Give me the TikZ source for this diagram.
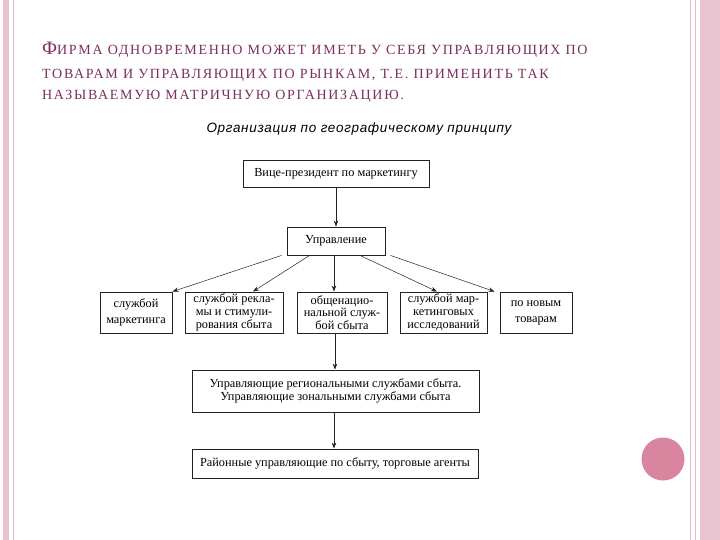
\documentclass[tikz,border=0pt]{standalone}
\usepackage{fontspec}
\setmainfont{Liberation Serif}
\newfontfamily\titlefont[LetterSpace=12]{Liberation Serif}
\newfontfamily\subfont[LetterSpace=5]{Liberation Sans}
\usepackage{tikz}
\usetikzlibrary{arrows.meta,positioning,calc}
\definecolor{sframe}{HTML}{E8C3D0}
\definecolor{sthin}{HTML}{E2B8C6}
\definecolor{sdot}{HTML}{D9859F}
\definecolor{stitle}{HTML}{7D2E5E}
\definecolor{sline}{HTML}{222222}

\tikzset{
  orgbox/.style={draw=sline,line width=0.9pt,fill=white,align=center,inner sep=0pt,
    font=\fontsize{12.3}{12.8}\selectfont},
  widebox/.style={orgbox,font=\fontsize{12.3}{16}\selectfont},
  orglink/.style={-{Stealth[length=6pt,width=4.5pt]},sline,line width=0.5pt},
  titleline/.style={anchor=base west,inner sep=0pt,text=stitle,
    font=\titlefont\fontsize{14}{16}\selectfont}
}
\newcommand{\bigfirst}[1]{{\fontsize{19}{20}\selectfont #1}}

\begin{document}
\begin{tikzpicture}[x=1pt,y=-1pt]
  \useasboundingbox (0,0) rectangle (720,540);
  \fill[white] (0,0) rectangle (720,540);

  % slide frame
  \fill[sframe] (3,0) rectangle (8.5,540);
  \draw[sthin,line width=0.8pt] (13,0) -- (13,540);
  \draw[sthin,line width=0.8pt] (690,0) -- (690,540);
  \draw[sthin,line width=0.8pt] (695,0) -- (695,540);
  \fill[sframe] (700,0) rectangle (720,540);
  \fill[sdot] (663,459) circle (21.5);

  % heading
  \node[titleline] (t1) at (42,55) {\bigfirst{Ф}ИРМА ОДНОВРЕМЕННО МОЖЕТ ИМЕТЬ У СЕБЯ УПРАВЛЯЮЩИХ ПО};
  \node[titleline] (t2) at (42,79) {ТОВАРАМ И УПРАВЛЯЮЩИХ ПО РЫНКАМ, Т.Е. ПРИМЕНИТЬ ТАК};
  \node[titleline] (t3) at (42,100) {НАЗЫВАЕМУЮ МАТРИЧНУЮ ОРГАНИЗАЦИЮ.};
  \node[anchor=base,inner sep=0pt,font=\subfont\itshape\fontsize{13.5}{15}\selectfont] (sub) at (359,133)
    {Организация по географическому принципу};

  % chart
  \node[orgbox,minimum width=186,minimum height=27] (vp) at (336,174) {Вице-президент по маркетингу};
  \node[orgbox,minimum width=98,minimum height=28] (upr) at (336,241) {Управление};

  \node[widebox,minimum width=72,minimum height=41] (b1) at (136,312.5) {службой\\маркетинга};
  \node[orgbox,minimum width=98,minimum height=41] (b2) at (234,312.5) {службой рекла-\\мы и стимули-\\рования сбыта};
  \node[orgbox,minimum width=90,minimum height=41] (b3) at (342,312.5) {общенацио-\\нальной служ-\\бой сбыта};
  \node[orgbox,minimum width=87,minimum height=41] (b4) at (443.5,312.5) {службой мар-\\кетинговых\\исследований};
  \node[widebox,minimum width=72,minimum height=41] (b5) at (536,312.5) {по новым\\товарам};

  \node[orgbox,minimum width=287,minimum height=42] (reg) at (335.5,391) {Управляющие региональными службами сбыта.\\Управляющие зональными службами сбыта};
  \node[orgbox,minimum width=286,minimum height=29] (rai) at (335,463.5) {Районные управляющие по сбыту, торговые агенты};

  \draw[orglink] (vp) -- (upr);
  \draw[orglink] ([xshift=-5]upr.south west) -- (b1.north east);
  \draw[orglink] ([xshift=23]upr.south west) -- ([xshift=19]b2.north);
  \draw[orglink] ([xshift=-2]upr.south) -- ([xshift=-2]upr.south |- b3.north);
  \draw[orglink] ([xshift=24]upr.south) -- ([xshift=-6.5]b4.north);
  \draw[orglink] ([xshift=5]upr.south east) -- ([xshift=-5]b5.north west);
  \draw[orglink] ([xshift=-7]b3.south) -- ([xshift=-7]b3.south |- reg.north);
  \draw[orglink] ([xshift=-1.5]reg.south) -- ([xshift=-1.5]reg.south |- rai.north);
\end{tikzpicture}
\end{document}
